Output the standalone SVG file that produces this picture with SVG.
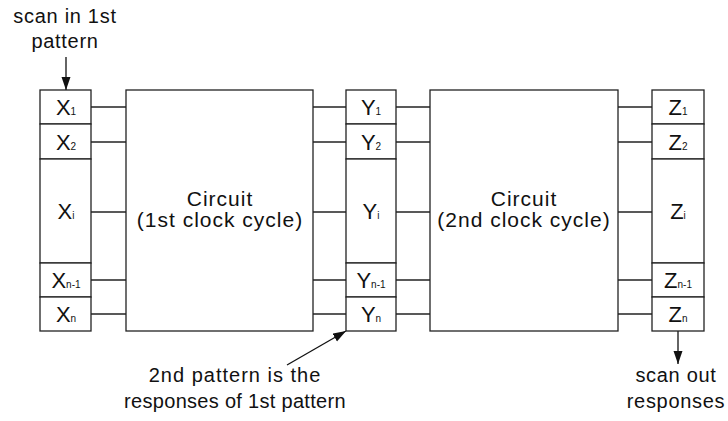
<svg xmlns="http://www.w3.org/2000/svg" width="728" height="421" viewBox="0 0 728 421">
  <defs>
    <marker id="ah" markerUnits="userSpaceOnUse" markerWidth="14" markerHeight="10" refX="13" refY="4.5" orient="auto">
      <path d="M0,0 L13,4.5 L0,9 z" fill="#111"/>
    </marker>
    <style>
      rect, line.c { fill: none; stroke: #222; stroke-width: 1.3; }
      rect { fill: #fff; }
      .lbl { font-family: "Liberation Sans", Arial, sans-serif; font-size: 22px; fill: #111; text-anchor: middle; }
      .sub { font-size: 10px; }
      .txt { font-family: "Liberation Sans", Arial, sans-serif; font-size: 20px; letter-spacing: 0.7px; fill: #111; text-anchor: middle; }
      .ctxt { font-size: 21px; letter-spacing: 1px; }
      .arr { stroke: #111; stroke-width: 1.3; fill: none; }
    </style>
  </defs>

  <g id="connectors">
    <line class="c" x1="91" y1="107" x2="126" y2="107"/>
    <line class="c" x1="91" y1="142" x2="126" y2="142"/>
    <line class="c" x1="91" y1="212" x2="126" y2="212"/>
    <line class="c" x1="91" y1="280" x2="126" y2="280"/>
    <line class="c" x1="91" y1="314" x2="126" y2="314"/>

    <line class="c" x1="313" y1="107" x2="346" y2="107"/>
    <line class="c" x1="313" y1="142" x2="346" y2="142"/>
    <line class="c" x1="313" y1="212" x2="346" y2="212"/>
    <line class="c" x1="313" y1="280" x2="346" y2="280"/>
    <line class="c" x1="313" y1="314" x2="346" y2="314"/>

    <line class="c" x1="396" y1="107" x2="430" y2="107"/>
    <line class="c" x1="396" y1="142" x2="430" y2="142"/>
    <line class="c" x1="396" y1="212" x2="430" y2="212"/>
    <line class="c" x1="396" y1="280" x2="430" y2="280"/>
    <line class="c" x1="396" y1="314" x2="430" y2="314"/>

    <line class="c" x1="618" y1="107" x2="652" y2="107"/>
    <line class="c" x1="618" y1="142" x2="652" y2="142"/>
    <line class="c" x1="618" y1="212" x2="652" y2="212"/>
    <line class="c" x1="618" y1="280" x2="652" y2="280"/>
    <line class="c" x1="618" y1="314" x2="652" y2="314"/>

    <line class="arr" x1="66" y1="57" x2="66" y2="90" marker-end="url(#ah)"/>
    <line class="arr" x1="287" y1="365" x2="346" y2="331" marker-end="url(#ah)"/>
    <line class="arr" x1="678" y1="331" x2="678" y2="364" marker-end="url(#ah)"/>
  </g>

  <g id="reg-x">
    <rect x="40" y="90" width="51" height="34"/>
    <rect x="40" y="124" width="51" height="35"/>
    <rect x="40" y="159" width="51" height="104"/>
    <rect x="40" y="263" width="51" height="34"/>
    <rect x="40" y="297" width="51" height="34"/>
    <text class="lbl" x="66" y="115">X<tspan class="sub">1</tspan></text>
    <text class="lbl" x="66" y="150">X<tspan class="sub">2</tspan></text>
    <text class="lbl" x="66" y="219">X<tspan class="sub">i</tspan></text>
    <text class="lbl" x="66" y="288">X<tspan class="sub">n-1</tspan></text>
    <text class="lbl" x="66" y="322">X<tspan class="sub">n</tspan></text>
  </g>

  <g id="circuit-1">
    <rect x="126" y="90" width="187" height="241"/>
    <text class="txt ctxt" x="220" y="206">Circuit</text>
    <text class="txt ctxt" x="220" y="227">(1st clock cycle)</text>
  </g>

  <g id="reg-y">
    <rect x="346" y="90" width="50" height="34"/>
    <rect x="346" y="124" width="50" height="35"/>
    <rect x="346" y="159" width="50" height="104"/>
    <rect x="346" y="263" width="50" height="34"/>
    <rect x="346" y="297" width="50" height="34"/>
    <text class="lbl" x="371" y="115">Y<tspan class="sub">1</tspan></text>
    <text class="lbl" x="371" y="150">Y<tspan class="sub">2</tspan></text>
    <text class="lbl" x="371" y="219">Y<tspan class="sub">i</tspan></text>
    <text class="lbl" x="371" y="288">Y<tspan class="sub">n-1</tspan></text>
    <text class="lbl" x="371" y="322">Y<tspan class="sub">n</tspan></text>
  </g>

  <g id="circuit-2">
    <rect x="430" y="90" width="188" height="241"/>
    <text class="txt ctxt" x="524" y="206">Circuit</text>
    <text class="txt ctxt" x="524" y="227">(2nd clock cycle)</text>
  </g>

  <g id="reg-z">
    <rect x="652" y="90" width="52" height="34"/>
    <rect x="652" y="124" width="52" height="35"/>
    <rect x="652" y="159" width="52" height="104"/>
    <rect x="652" y="263" width="52" height="34"/>
    <rect x="652" y="297" width="52" height="34"/>
    <text class="lbl" x="678" y="115">Z<tspan class="sub">1</tspan></text>
    <text class="lbl" x="678" y="150">Z<tspan class="sub">2</tspan></text>
    <text class="lbl" x="678" y="219">Z<tspan class="sub">i</tspan></text>
    <text class="lbl" x="678" y="288">Z<tspan class="sub">n-1</tspan></text>
    <text class="lbl" x="678" y="322">Z<tspan class="sub">n</tspan></text>
  </g>

  <g id="note-scan-in">
    <text class="txt" x="65" y="23">scan in 1st</text>
    <text class="txt" x="65" y="48">pattern</text>
  </g>

  <g id="note-2nd-pattern">
    <text class="txt" x="235" y="382" style="letter-spacing:1px">2nd pattern is the</text>
    <text class="txt" x="235" y="408" style="letter-spacing:0.3px">responses of 1st pattern</text>
  </g>

  <g id="note-scan-out">
    <text class="txt" x="676" y="382">scan out</text>
    <text class="txt" x="676" y="408">responses</text>
  </g>
</svg>
